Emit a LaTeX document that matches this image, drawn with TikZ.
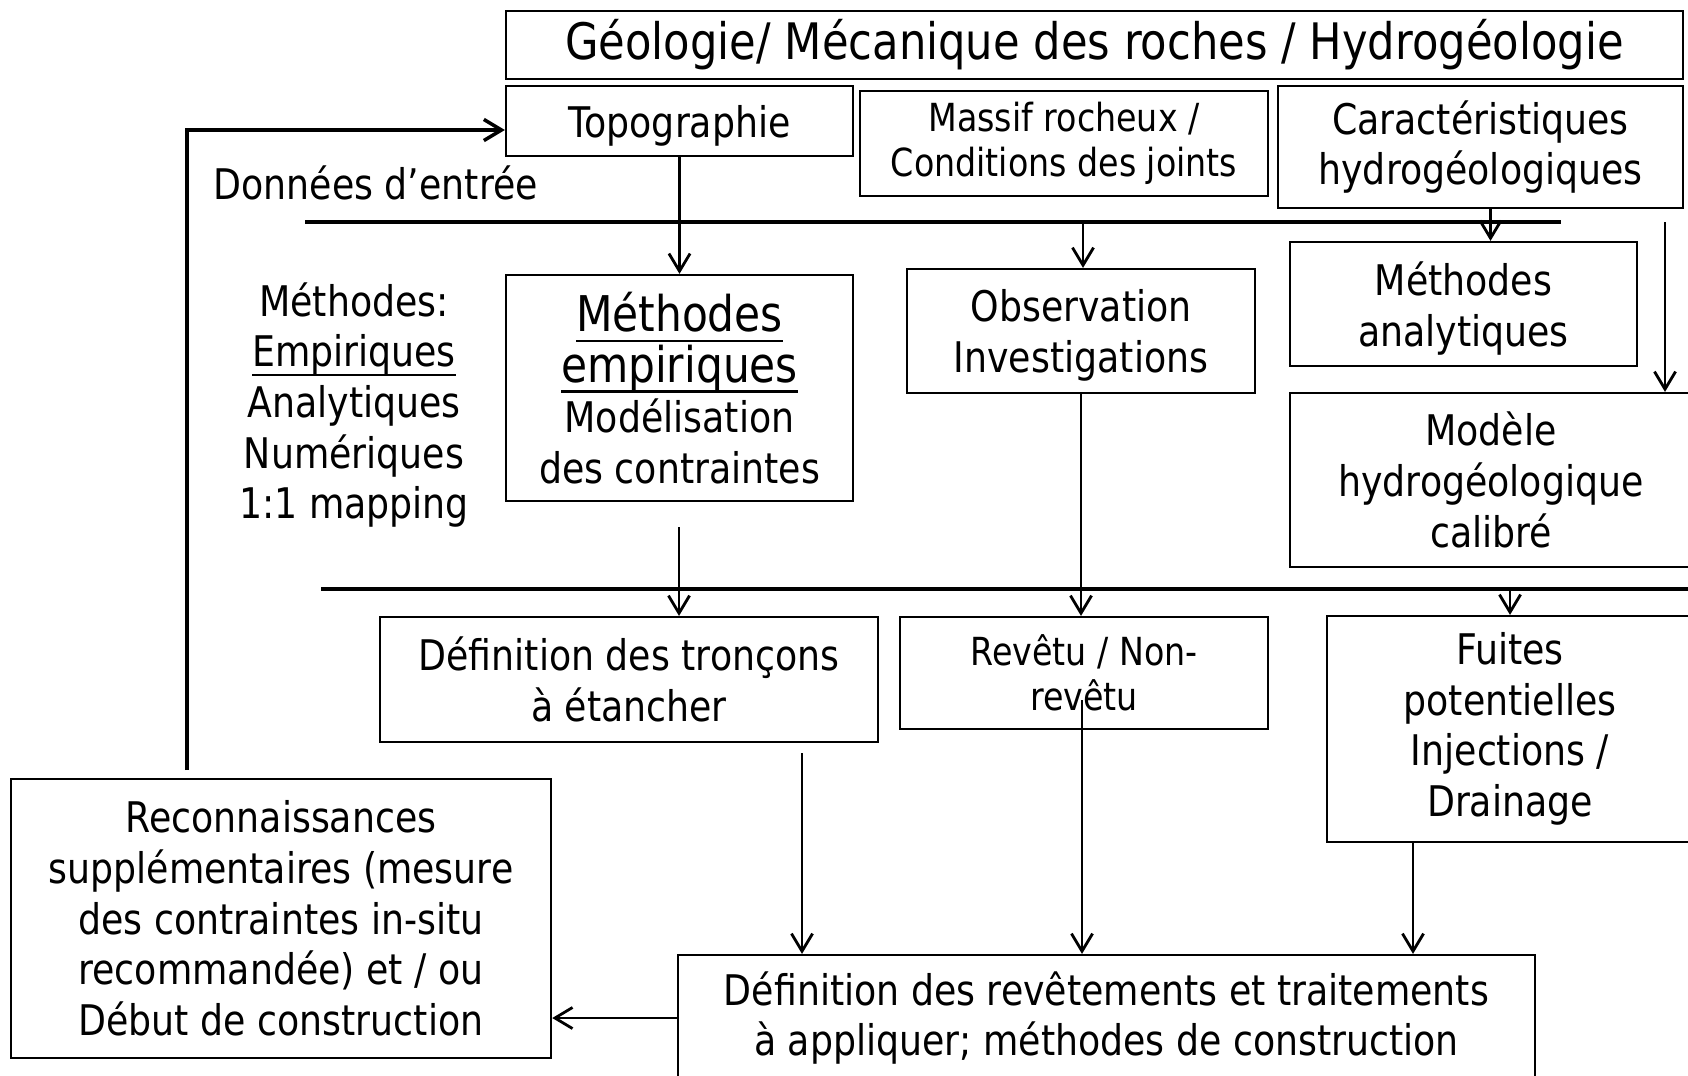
\documentclass[tikz,border=0pt]{standalone}
\usepackage{fontspec}
\setmainfont[FakeStretch=0.86]{DejaVu Sans}
\usepackage{tikz}
\usetikzlibrary{arrows.meta,positioning,calc}

\newcommand{\ulin}[1]{\leavevmode\setbox0=\hbox{#1}\rlap{\rule[-0.22em]{\wd0}{0.05em}}\box0}
\newcommand{\bigul}[1]{{\fontsize{14}{14.4}\selectfont\ulin{#1}}}

\begin{document}
\begin{tikzpicture}[x=0.01cm, y=-0.01cm,
  every node/.style={font=\fontsize{12}{14.4}\selectfont, align=center, inner sep=0pt},
  bnode/.style={draw, line width=0.6pt, rectangle},
  snode/.style={bnode, font=\fontsize{11}{12.7}\selectfont},
  tnode/.style={draw=none},
  conn/.style={line width=0.8pt, -{Straight Barb[length=5pt,width=6pt]}},
  sep/.style={line width=1.1pt}]

\useasboundingbox (0,0) rectangle (1688,1075);

% donnees d'entree
\node (geo) [bnode, minimum width=11.77cm, minimum height=0.68cm,
  font=\fontsize{14.3}{16}\selectfont] at (1094.5,45)
  {Géologie/ Mécanique des roches / Hydrogéologie};
\node (topo) [bnode, minimum width=3.47cm, minimum height=0.70cm, text depth=0pt] at (679.5,121) {Topographie};
\node (massif) [snode, minimum width=4.08cm, minimum height=1.05cm] at (1064,143.5)
  {Massif rocheux /\\Conditions des joints};
\node (caract) [bnode, minimum width=4.05cm, minimum height=1.22cm] at (1480.5,147)
  {Caractéristiques\\hydrogéologiques};
\node (donnees) [tnode, anchor=west] at (213,183) {Données d’entrée};

\draw [sep] (305,222) -- (1561,222);

% methodes
\node (methodes) [tnode] at (354,405)
  {Méthodes:\\\ulin{Empiriques}\\Analytiques\\Numériques\\1:1 mapping};
\node (methemp) [bnode, minimum width=3.47cm, minimum height=2.26cm] at (679.5,388)
  {\bigul{Méthodes}\\\bigul{empiriques}\\Modélisation\\des contraintes};
\node (observ) [bnode, minimum width=3.48cm, minimum height=1.24cm, text depth=0pt] at (1081,331)
  {Observation\\Investigations};
\node (methana) [bnode, minimum width=3.47cm, minimum height=1.24cm, text depth=0pt] at (1463.5,304)
  {Méthodes\\analytiques};
\node (modele) [bnode, minimum width=4.02cm, minimum height=1.74cm] at (1491,480)
  {Modèle\\hydrogéologique\\calibré};

\draw [sep] (321,589) -- (1688,589);

% resultats
\node (deftron) [bnode, minimum width=4.98cm, minimum height=1.25cm] at (629,679.5)
  {Définition des tronçons\\à étancher};
\node (revetu) [snode, minimum width=3.68cm, minimum height=1.12cm] at (1084,673)
  {Revêtu / Non-\\revêtu};
\node (fuites) [bnode, minimum width=3.66cm, minimum height=2.26cm] at (1510,729)
  {Fuites\\potentielles\\Injections /\\Drainage};
\node (defrev) [bnode, minimum width=8.57cm, minimum height=1.26cm] at (1106.5,1018)
  {Définition des revêtements et traitements\\à appliquer; méthodes de construction};
\node (reconn) [bnode, minimum width=5.40cm, minimum height=2.79cm] at (281,918.5)
  {Reconnaissances\\supplémentaires (mesure\\des contraintes in-situ\\recommandée) et / ou\\Début de construction};

\coordinate (s1) at (1083,222);
\coordinate (s1r) at (1665,222);
\coordinate (s2) at (1510,589);
\coordinate (me) at (679,527);
\coordinate (dt) at (802,753);
\coordinate (rv) at (1082,700);
\coordinate (fu) at (1413,842);
\coordinate (fb) at (187,770);

\draw [conn] (topo.south) -- (methemp.north);
\draw [conn] (s1) -- (s1 |- observ.north);
\draw [conn] ($(caract.south)+(10,0)$) -- ($(caract.south |- methana.north)+(10,0)$);
\draw [conn] (s1r) -- (s1r |- modele.north);

\draw [conn] (me) -- (me |- deftron.north);
\draw [conn] (observ.south) -- (observ.south |- revetu.north);
\draw [conn] (s2) -- (s2 |- fuites.north);

\draw [conn] (dt) -- (dt |- defrev.north);
\draw [conn] (rv) -- (rv |- defrev.north);
\draw [conn] (fu) -- (fu |- defrev.north);
\draw [conn] (defrev.west) -- (defrev.west -| reconn.east);

%retour vers les donnees d'entree
\draw [conn, line width=1pt] (fb) |- ($(topo.west)+(0,9)$);

\end{tikzpicture}
\end{document}
